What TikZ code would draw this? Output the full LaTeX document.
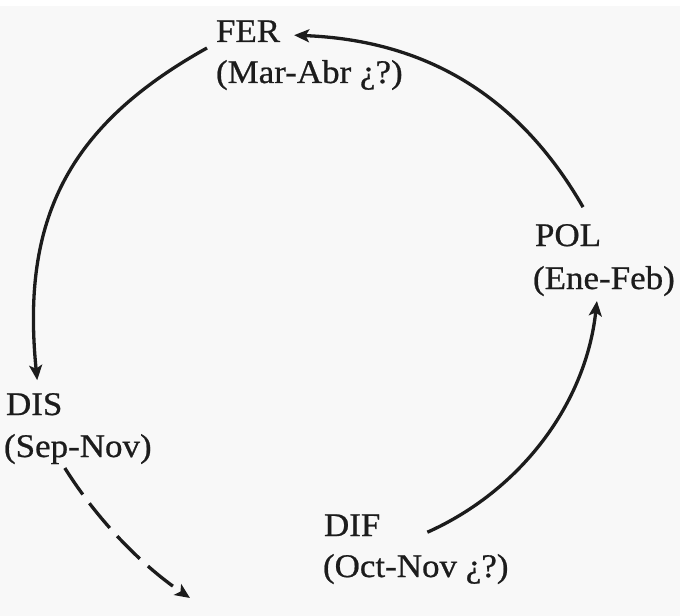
\documentclass[tikz,border=0pt]{standalone}
\usepackage{fontspec}
\setmainfont{Liberation Serif}[FakeStretch=1.06,FakeBold=0.7]
\usetikzlibrary{arrows.meta,calc}
\definecolor{bgc}{RGB}{248,248,248}
\definecolor{ink}{RGB}{28,28,28}
\begin{document}
\begin{tikzpicture}[x=1bp,y=-1bp,
  lbl/.style={anchor=base west,inner sep=0pt,outer sep=0pt,text=ink,
    font=\fontsize{33bp}{41bp}\selectfont},
  conn/.style={draw=ink,line width=3.3bp,-{Stealth[length=15bp,width=13bp,inset=3.5bp]}},
  dashconn/.style={conn,dash pattern=on 32bp off 11bp}]
\useasboundingbox (0,0) rectangle (680,616);
\fill[white] (0,0) rectangle (680,616);
\fill[bgc] (0,6) rectangle (680,616);
% labels
\node[lbl] (fer)  at (216,42)  {FER};
\node[lbl] (ferd) at (216,83)  {(Mar-Abr ¿?)};
\node[lbl] (pol)  at (535,246) {POL};
\node[lbl] (pold) at (533,289) {(Ene-Feb)};
\node[lbl] (dis)  at (6,415)   {DIS};
\node[lbl] (disd) at (4,457)   {(Sep-Nov)};
\node[lbl] (dif)  at (324,536) {DIF};
\node[lbl] (difd) at (323,577) {(Oct-Nov ¿?)};
\coordinate (dend) at (190,598);
% connectors
\draw[conn] ([xshift=15bp,yshift=17bp]pol.north) .. controls +(-65,-113) and +(130,5) .. ([xshift=14bp,yshift=-4bp]fer.east);
\draw[conn] ([xshift=-9bp,yshift=-6bp]fer.south west) .. controls +(-140,78) and +(-16,-160) .. ([xshift=3bp,yshift=13bp]dis.north);
\draw[conn] ([xshift=47bp,yshift=-7bp]dif.east) .. controls +(94,-42) and +(-11,102) .. ([xshift=-7bp,yshift=-5bp]pold.south);
\draw[dashconn] ([xshift=-13bp,yshift=-4bp]disd.south) .. controls +(32,51) and +(-50,-34) .. (dend);
\end{tikzpicture}
\end{document}
